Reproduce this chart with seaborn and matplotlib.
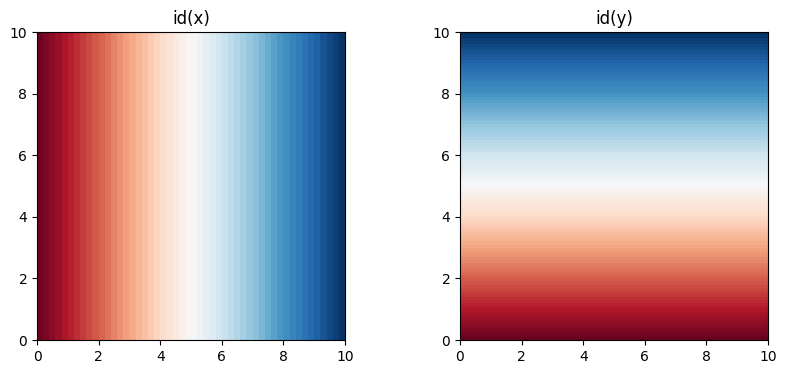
import numpy as np
import matplotlib
matplotlib.use("Agg")
import matplotlib.pyplot as plt
import seaborn as sns

# Data: the plotted field equals the coordinate itself (id(x), id(y))
x_values = [0.1, 0.3, 0.5, 0.7, 0.9, 1.1, 1.3, 1.5, 1.7, 1.9,
            2.1, 2.3, 2.5, 2.7, 2.9, 3.1, 3.3, 3.5, 3.7, 3.9,
            4.1, 4.3, 4.5, 4.7, 4.9, 5.1, 5.3, 5.5, 5.7, 5.9,
            6.1, 6.3, 6.5, 6.7, 6.9, 7.1, 7.3, 7.5, 7.7, 7.9,
            8.1, 8.3, 8.5, 8.7, 8.9, 9.1, 9.3, 9.5, 9.7, 9.9]
y_values = [0.05, 0.15, 0.25, 0.35, 0.45, 0.55, 0.65, 0.75, 0.85, 0.95,
            1.05, 1.15, 1.25, 1.35, 1.45, 1.55, 1.65, 1.75, 1.85, 1.95,
            2.05, 2.15, 2.25, 2.35, 2.45, 2.55, 2.65, 2.75, 2.85, 2.95,
            3.05, 3.15, 3.25, 3.35, 3.45, 3.55, 3.65, 3.75, 3.85, 3.95,
            4.05, 4.15, 4.25, 4.35, 4.45, 4.55, 4.65, 4.75, 4.85, 4.95,
            5.05, 5.15, 5.25, 5.35, 5.45, 5.55, 5.65, 5.75, 5.85, 5.95,
            6.05, 6.15, 6.25, 6.35, 6.45, 6.55, 6.65, 6.75, 6.85, 6.95,
            7.05, 7.15, 7.25, 7.35, 7.45, 7.55, 7.65, 7.75, 7.85, 7.95,
            8.05, 8.15, 8.25, 8.35, 8.45, 8.55, 8.65, 8.75, 8.85, 8.95,
            9.05, 9.15, 9.25, 9.35, 9.45, 9.55, 9.65, 9.75, 9.85, 9.95]
domain = [0, 10]
titles = ["id(x)", "id(y)"]
ticks = [0, 2, 4, 6, 8, 10]

cmap = sns.color_palette("RdBu", as_cmap=True)


def edges(centers):
    c = np.asarray(centers, dtype=float)
    return np.concatenate([[domain[0]], (c[:-1] + c[1:]) / 2, [domain[1]]])


fig = plt.figure(figsize=(7.86, 3.74), dpi=100)
ax1 = fig.add_axes([37 / 786, 34 / 374, 308 / 786, 308 / 374])
ax2 = fig.add_axes([460 / 786, 34 / 374, 308 / 786, 308 / 374])

# left: varies along x
Zx = np.asarray(x_values)[None, :]
ax1.pcolormesh(edges(x_values), domain, Zx, cmap=cmap,
               vmin=domain[0], vmax=domain[1], shading="flat")
# right: varies along y
Zy = np.asarray(y_values)[:, None]
ax2.pcolormesh(domain, edges(y_values), Zy, cmap=cmap,
               vmin=domain[0], vmax=domain[1], shading="flat")

for ax, t in zip([ax1, ax2], titles):
    ax.set_xlim(domain)
    ax.set_ylim(domain)
    ax.set_xticks(ticks)
    ax.set_yticks(ticks)
    ax.set_title(t, fontsize=12)
    ax.tick_params(labelsize=10)

fig.savefig("out.png", dpi=100)
